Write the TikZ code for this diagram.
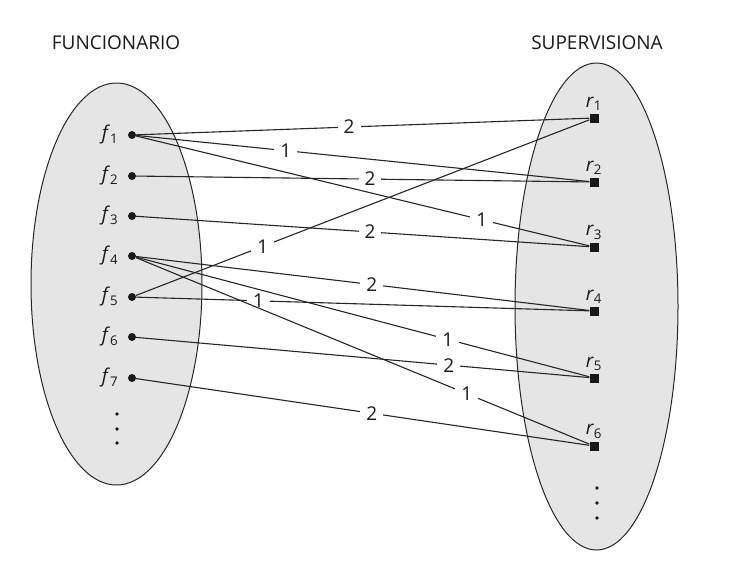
\documentclass[tikz,border=0pt]{standalone}
\usepackage{fontspec}
\setmainfont{Open Sans}
\usetikzlibrary{positioning}
\newcommand{\el}[2]{\textit{#1}\textsubscript{#2}}

\begin{document}
\begin{tikzpicture}[x=1pt, y=-1pt, font=\fontsize{19}{22}\selectfont, text=black!90,
  set/.style={draw=black!85, line width=1pt, fill=gray!20},
  fd/.style={circle, fill=black!90, inner sep=0pt, minimum size=8pt},
  rs/.style={rectangle, fill=black!90, inner sep=0pt, minimum size=9pt},
  a/.style={line width=1.1pt, draw=black!85},
  lb/.style={fill=white, inner xsep=6pt, inner ysep=1pt},
  fl/.style={label={[label distance=6pt]left:#1}},
  rl/.style={label={[label distance=-1pt]above:#1}}]
  \useasboundingbox (0,0) rectangle (729,565);
  % the two sets
  \draw[set] (116.5,284) ellipse [x radius=85.5, y radius=201];
  \draw[set] (596.5,306.5) ellipse [x radius=81.5, y radius=243.5];
  \node (tf) at (116,43) {FUNCIONARIO};
  \node (tr) at (597,43) {SUPERVISIONA};
  % funcionarios
  \node[fd, fl=\el{f}{1}] (f1) at (132,135) {};
  \node[fd, fl=\el{f}{2}] (f2) at (132,176) {};
  \node[fd, fl=\el{f}{3}] (f3) at (132,216) {};
  \node[fd, fl=\el{f}{4}] (f4) at (132,256) {};
  \node[fd, fl=\el{f}{5}] (f5) at (132,297) {};
  \node[fd, fl=\el{f}{6}] (f6) at (132,337) {};
  \node[fd, fl=\el{f}{7}] (f7) at (132,378) {};
  \foreach \y in {414,429,443} \fill[black!90] (117,\y) circle (1.8pt);
  % supervisados
  \node[rs, rl=\el{r}{1}] (r1) at (594,118) {};
  \node[rs, rl=\el{r}{2}] (r2) at (594,182) {};
  \node[rs, rl=\el{r}{3}] (r3) at (594,247) {};
  \node[rs, rl=\el{r}{4}] (r4) at (594,311) {};
  \node[rs, rl=\el{r}{5}] (r5) at (594,378) {};
  \node[rs, rl=\el{r}{6}] (r6) at (594,446) {};
  \foreach \y in {488,503,518} \fill[black!90] (597,\y) circle (1.8pt);
  % relacion
  \draw[a] (f1) -- node[lb, pos=0.47]  {2} (r1);
  \draw[a] (f1) -- node[lb, pos=0.33]  {1} (r2);
  \draw[a] (f1) -- node[lb, pos=0.763] {1} (r3);
  \draw[a] (f2) -- node[lb, pos=0.516] {2} (r2);
  \draw[a] (f3) -- node[lb, pos=0.516] {2} (r3);
  \draw[a] (f5) -- node[lb, pos=0.28]  {1} (r1);
  \draw[a] (f4) -- node[lb, pos=0.52]  {2} (r4);
  \draw[a] (f5) -- node[lb, pos=0.27]  {1} (r4);
  \draw[a] (f4) -- node[lb, pos=0.688] {1} (r5);
  \draw[a] (f6) -- node[lb, pos=0.69]  {2} (r5);
  \draw[a] (f4) -- node[lb, pos=0.73]  {1} (r6);
  \draw[a] (f7) -- node[lb, pos=0.52]  {2} (r6);
\end{tikzpicture}
\end{document}
